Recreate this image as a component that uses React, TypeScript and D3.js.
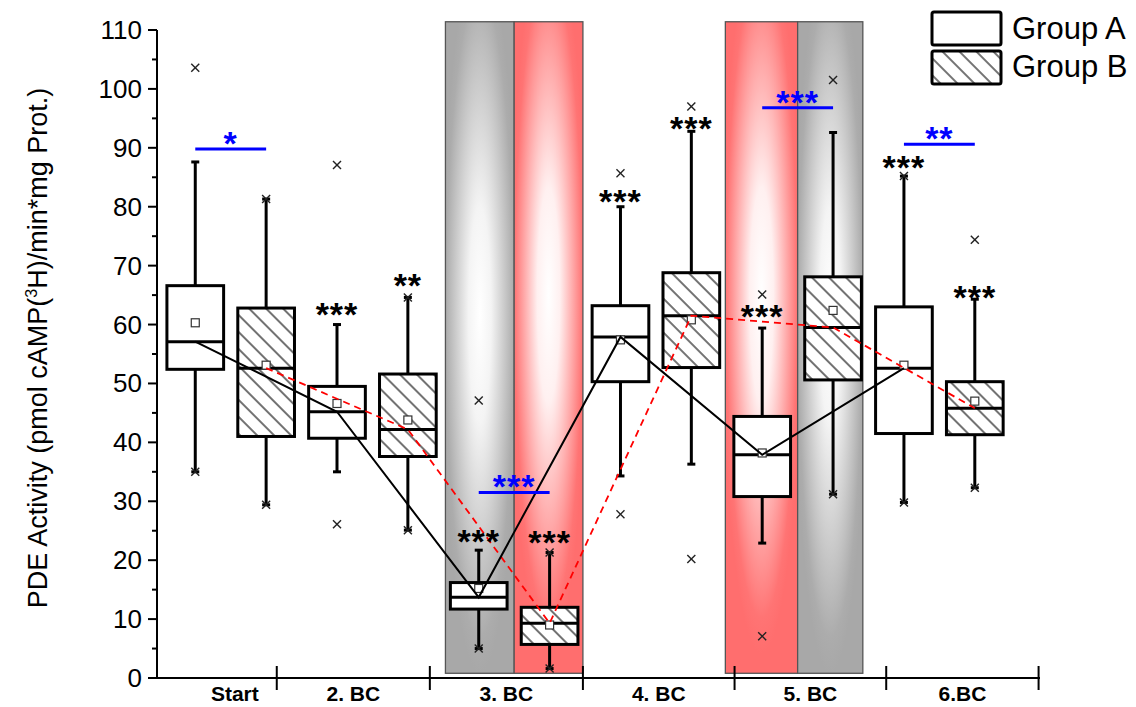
import React from 'react';
import * as d3 from 'd3';

// ---------- data ----------
const categories = ['Start', '2. BC', '3. BC', '4. BC', '5. BC', '6.BC'];
const legendLabels = ['Group A', 'Group B'];
// box positions 1..12 alternate Group A / Group B
const boxPos = [1, 2, 3, 4, 5, 6, 7, 8, 9, 10, 11, 12];
const boxGroup = ['A', 'B', 'A', 'B', 'A', 'B', 'A', 'B', 'A', 'B', 'A', 'B'];
const q3 = [66.6, 62.8, 49.5, 51.6, 16.2, 12.0, 63.2, 68.8, 44.4, 68.1, 63.0, 50.3];
const q1 = [52.4, 41.0, 40.7, 37.6, 11.7, 5.7, 50.3, 52.7, 30.8, 50.6, 41.5, 41.3];
const medians = [57.1, 52.6, 45.2, 42.2, 13.7, 9.3, 57.9, 61.5, 37.9, 59.5, 52.6, 45.8];
const means = [60.3, 53.1, 46.6, 43.8, 15.2, 9.0, 57.4, 60.8, 38.2, 62.4, 53.1, 47.0];
const whiskerHigh = [87.6, 81.3, 60.0, 64.6, 21.7, 21.3, 80.0, 92.8, 59.4, 92.6, 85.2, 64.3];
const whiskerLow = [35.0, 29.4, 35.0, 25.1, 5.0, 1.6, 34.3, 36.3, 22.9, 31.2, 29.8, 32.3];
const maxMarks = [103.6, 81.3, 87.1, 64.6, 47.1, 21.3, 85.7, 97.0, 65.1, 101.5, 85.2, 74.4];
const minMarks = [35.0, 29.4, 26.1, 25.1, 5.0, 1.6, 27.8, 20.2, 7.1, 31.2, 29.8, 32.3];

const yTicks = [0, 10, 20, 30, 40, 50, 60, 70, 80, 90, 100, 110];
const yMinorTicks = [5, 15, 25, 35, 45, 55, 65, 75, 85, 95, 105];
const categoryBounds = [0.46, 2.15, 4.31, 6.47, 8.61, 10.75, 12.9];

const shading = [
  { from: 4.53, to: 5.5, kind: 'gray' },
  { from: 5.5, to: 6.47, kind: 'red' },
  { from: 8.48, to: 9.5, kind: 'red' },
  { from: 9.5, to: 10.42, kind: 'gray' },
];

const starMarks = [
  { pos: 3, value: 62.5, text: '***' },
  { pos: 4, value: 67.4, text: '**' },
  { pos: 5, value: 23.9, text: '***' },
  { pos: 6, value: 23.7, text: '***' },
  { pos: 7, value: 81.7, text: '***' },
  { pos: 8, value: 94.1, text: '***' },
  { pos: 9, value: 62.2, text: '***' },
  { pos: 11, value: 87.4, text: '***' },
  { pos: 12, value: 65.4, text: '***' },
];

const blueBars = [
  { from: 1, to: 2, value: 89.8, text: '*' },
  { from: 5, to: 6, value: 31.5, text: '***' },
  { from: 9, to: 10, value: 96.8, text: '***' },
  { from: 11, to: 12, value: 90.6, text: '**' },
];

// ---------- layout ----------
const W = 1136;
const H = 707;
const x = d3.scaleLinear().domain([0.46, 12.92]).range([157, 1040]);
const y = d3.scaleLinear().domain([0, 110]).range([678, 30]);
const boxHalf = 0.4;
const FONT = 'Liberation Sans, Arial, sans-serif';

export default function App() {
  const idx = d3.range(boxPos.length);
  const idxA = idx.filter((i) => boxGroup[i] === 'A');
  const idxB = idx.filter((i) => boxGroup[i] === 'B');
  const line = d3
    .line<number>()
    .x((i) => x(boxPos[i]))
    .y((i) => y(medians[i]));

  const cross = (cx: number, cy: number, k: string) => (
    <g key={k} stroke="#222" strokeWidth={1.4}>
      <line x1={cx - 4} y1={cy - 4} x2={cx + 4} y2={cy + 4} />
      <line x1={cx - 4} y1={cy + 4} x2={cx + 4} y2={cy - 4} />
    </g>
  );

  const starDy = 16;

  return (
    <svg width={W} height={H} style={{ position: 'absolute', left: 0, top: 0, background: '#fff' }}>
      <defs>
        <pattern id="hatch" patternUnits="userSpaceOnUse" width={12} height={12} patternTransform="rotate(45)">
          <rect width={12} height={12} fill="#fff" />
          <line x1={0} y1={6} x2={12} y2={6} stroke="#000" strokeWidth={1.1} />
        </pattern>
        <radialGradient id="gGray" cx="0.5" cy="0.45" r="0.55">
          <stop offset="0" stopColor="#ffffff" />
          <stop offset="0.3" stopColor="#f4f4f4" />
          <stop offset="0.9" stopColor="#acacac" />
          <stop offset="1" stopColor="#a8a8a8" />
        </radialGradient>
        <radialGradient id="gRed" cx="0.5" cy="0.42" r="0.55">
          <stop offset="0" stopColor="#ffffff" />
          <stop offset="0.3" stopColor="#fff0f0" />
          <stop offset="0.9" stopColor="#ff7474" />
          <stop offset="1" stopColor="#ff6e6e" />
        </radialGradient>
      </defs>

      {/* shaded regions */}
      {shading.map((s, i) => (
        <rect
          key={'sh' + i}
          x={x(s.from)}
          y={y(111.4)}
          width={x(s.to) - x(s.from)}
          height={y(0.8) - y(111.4)}
          fill={s.kind === 'gray' ? 'url(#gGray)' : 'url(#gRed)'}
          stroke="#555"
          strokeWidth={1.3}
        />
      ))}

      {/* axes */}
      <line x1={x(0.46)} y1={y(0)} x2={x(12.92)} y2={y(0)} stroke="#000" strokeWidth={2} />
      <line x1={x(0.46)} y1={y(0) + 1} x2={x(0.46)} y2={y(110)} stroke="#000" strokeWidth={2} />
      {yTicks.map((t) => (
        <g key={'yt' + t}>
          <line x1={x(0.46) - 9} x2={x(0.46)} y1={y(t)} y2={y(t)} stroke="#000" strokeWidth={2} />
          <text x={x(0.46) - 15} y={y(t) + 9} textAnchor="end" fontFamily={FONT} fontSize={26} fill="#000">
            {t}
          </text>
        </g>
      ))}
      {yMinorTicks.map((t) => (
        <line key={'ym' + t} x1={x(0.46) - 5} x2={x(0.46)} y1={y(t)} y2={y(t)} stroke="#000" strokeWidth={2} />
      ))}
      {categoryBounds.slice(1).map((b, i) => (
        <line key={'xb' + i} x1={x(b)} x2={x(b)} y1={y(0) - 12} y2={y(0) + 12} stroke="#000" strokeWidth={2} />
      ))}
      {categories.map((c, i) => (
        <text
          key={'xl' + i}
          x={(x(categoryBounds[i]) + x(categoryBounds[i + 1])) / 2 + (i === 0 ? 18 : 0)}
          y={701}
          textAnchor="middle"
          fontFamily={FONT}
          fontWeight="bold"
          fontSize={21}
          fill="#000"
        >
          {c}
        </text>
      ))}
      <text
        transform="translate(47,348) rotate(-90)"
        textAnchor="middle"
        fontFamily={FONT}
        fontSize={27}
        fill="#000"
      >
        PDE Activity (pmol cAMP(<tspan dy={-10} fontSize={16}>3</tspan>
        <tspan dy={10}>H)/min*mg Prot.)</tspan>
      </text>

      {/* boxes */}
      {idx.map((i) => {
        const cx = x(boxPos[i]);
        const x0 = x(boxPos[i] - boxHalf);
        const x1 = x(boxPos[i] + boxHalf);
        return (
          <g key={'box' + i}>
            <line x1={cx} x2={cx} y1={y(whiskerHigh[i])} y2={y(q3[i])} stroke="#000" strokeWidth={3} />
            <line x1={cx} x2={cx} y1={y(whiskerLow[i])} y2={y(q1[i])} stroke="#000" strokeWidth={3} />
            <line x1={cx - 4} x2={cx + 4} y1={y(whiskerHigh[i])} y2={y(whiskerHigh[i])} stroke="#000" strokeWidth={3} />
            <line x1={cx - 4} x2={cx + 4} y1={y(whiskerLow[i])} y2={y(whiskerLow[i])} stroke="#000" strokeWidth={3} />
            <rect
              x={x0}
              y={y(q3[i])}
              width={x1 - x0}
              height={y(q1[i]) - y(q3[i])}
              fill={boxGroup[i] === 'A' ? '#fff' : 'url(#hatch)'}
              stroke="#000"
              strokeWidth={3}
            />
            <line x1={x0} x2={x1} y1={y(medians[i])} y2={y(medians[i])} stroke="#000" strokeWidth={3} />
            {cross(cx, y(maxMarks[i]), 'mx' + i)}
            {cross(cx, y(minMarks[i]), 'mn' + i)}
          </g>
        );
      })}

      {/* mean squares */}
      {idx.map((i) => (
        <rect
          key={'mean' + i}
          x={x(boxPos[i]) - 4}
          y={y(means[i]) - 4}
          width={8}
          height={8}
          fill="#fff"
          stroke="#333"
          strokeWidth={1.2}
        />
      ))}

      {/* connecting lines */}
      <path d={line(idxB) || ''} fill="none" stroke="#ff0000" strokeWidth={1.8} strokeDasharray="7,5" />
      <path d={line(idxA) || ''} fill="none" stroke="#000" strokeWidth={2} />

      {/* significance vs start */}
      {starMarks.map((s, i) => (
        <text
          key={'st' + i}
          x={x(s.pos)}
          y={y(s.value) + starDy}
          textAnchor="middle"
          fontFamily={FONT}
          fontSize={34}
          fontWeight="bold"
          letterSpacing={1}
          fill="#000"
        >
          {s.text}
        </text>
      ))}

      {/* group comparison bars */}
      {blueBars.map((b, i) => (
        <g key={'bb' + i}>
          <line x1={x(b.from)} x2={x(b.to)} y1={y(b.value)} y2={y(b.value)} stroke="#0000ff" strokeWidth={3} />
          <text
            x={(x(b.from) + x(b.to)) / 2}
            y={y(b.value) - 10 + starDy}
            textAnchor="middle"
            fontFamily={FONT}
            fontSize={34}
            fontWeight="bold"
            letterSpacing={1}
            fill="#0000ff"
          >
            {b.text}
          </text>
        </g>
      ))}

      {/* legend */}
      {legendLabels.map((l, i) => (
        <g key={'lg' + i}>
          <rect
            x={932}
            y={12 + i * 39}
            width={69}
            height={33}
            rx={2}
            fill={i === 0 ? '#fff' : 'url(#hatch)'}
            stroke="#000"
            strokeWidth={3}
          />
          <text x={1012} y={39 + i * 38} fontFamily={FONT} fontSize={31} fill="#000">
            {l}
          </text>
        </g>
      ))}
    </svg>
  );
}
